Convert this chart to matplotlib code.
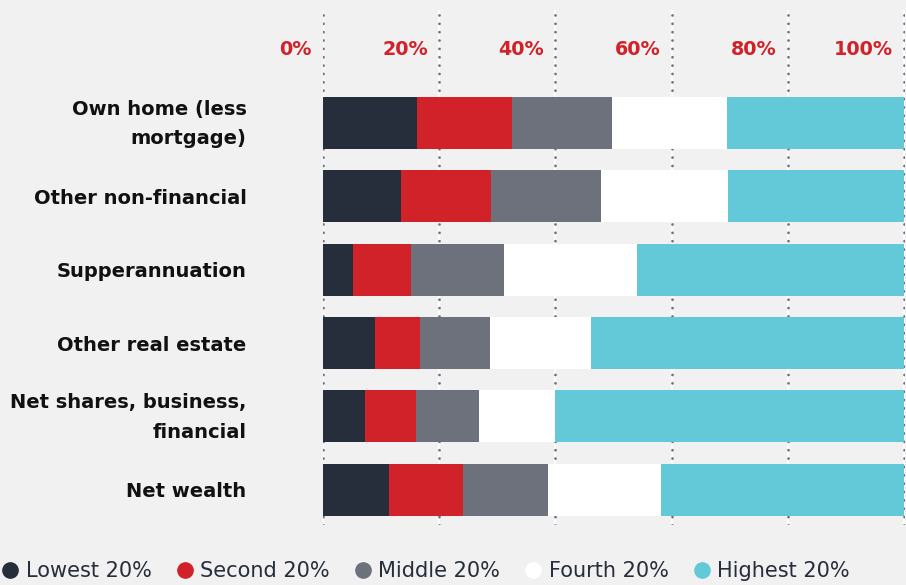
import matplotlib.pyplot as plt
from matplotlib.lines import Line2D
from matplotlib.transforms import ScaledTranslation

categories = [
    "Own home (less\nmortgage)",
    "Other non-financial",
    "Supperannuation",
    "Other real estate",
    "Net shares, business,\nfinancial",
    "Net wealth",
]
series_names = ["Lowest 20%", "Second 20%", "Middle 20%", "Fourth 20%", "Highest 20%"]
lowest = [16.2, 13.4, 5.2, 8.9, 7.2, 11.3]
second = [16.3, 15.6, 9.9, 7.8, 8.8, 12.8]
middle = [17.2, 18.9, 16.0, 12.0, 10.8, 14.7]
fourth = [19.9, 21.9, 23.0, 17.5, 13.2, 19.4]
highest = [30.4, 30.2, 45.9, 53.8, 60.0, 41.8]
tick_values = [0, 20, 40, 60, 80, 100]
tick_labels = ["0%", "20%", "40%", "60%", "80%", "100%"]

colors = ["#262d3b", "#d12229", "#6d717c", "#ffffff", "#63c9d9"]
bg = "#f1f1f1"

plt.rcParams["font.family"] = ["DejaVu Sans"]

fig = plt.figure(figsize=(9.06, 5.85), dpi=100, facecolor=bg)
# axes spans the dotted gridlines: x 323..905 px, y 10..525 px
ax = fig.add_axes([323 / 906, 1 - 525 / 585, 582 / 906, 515 / 585])
ax.set_facecolor(bg)

y = list(range(len(categories)))
left = [0] * len(categories)
for name, vals, col in zip(series_names, [lowest, second, middle, fourth, highest], colors):
    ax.barh(y, vals, left=left, height=0.71, color=col, zorder=3, label=name)
    left = [a + b for a, b in zip(left, vals)]

for v, lab in zip(tick_values, tick_labels):
    ax.axvline(v, color="white", lw=1.3, zorder=1)
    ax.axvline(v, color="#6d717c", lw=2.0, linestyle=(0, (0.01, 3.0)),
               dash_capstyle="round", zorder=2)
    ax.text(v - 1.9, -1.0, lab, ha="right", va="center",
            color="#d12229", fontsize=13.8, fontweight="bold")

ax.set_xlim(0, 100.2)
ax.set_ylim(5.48, -1.54)
ax.set_yticks(y)
ax.set_yticklabels(categories, fontsize=14, fontweight="bold", color="#111111",
                   linespacing=1.7)
ax.tick_params(axis="y", length=0, pad=55)
ax.set_xticks([])
for s in ax.spines.values():
    s.set_visible(False)

# two-line labels sit a little higher in the original
for lbl in ax.get_yticklabels():
    if "\n" in lbl.get_text():
        lbl.set_transform(lbl.get_transform() + ScaledTranslation(0, 0.06, fig.dpi_scale_trans))

handles = [Line2D([], [], marker="o", ls="", markersize=11, markerfacecolor=c,
                  markeredgecolor=c) for c in colors]
fig.legend(handles, series_names, loc="lower left", bbox_to_anchor=(-0.021, -0.026),
           ncol=5, frameon=False, fontsize=15, handletextpad=0.25, columnspacing=1.08,
           handlelength=1.0, labelcolor="#262d3b")

fig.savefig("out.png", dpi=100, facecolor=bg)
